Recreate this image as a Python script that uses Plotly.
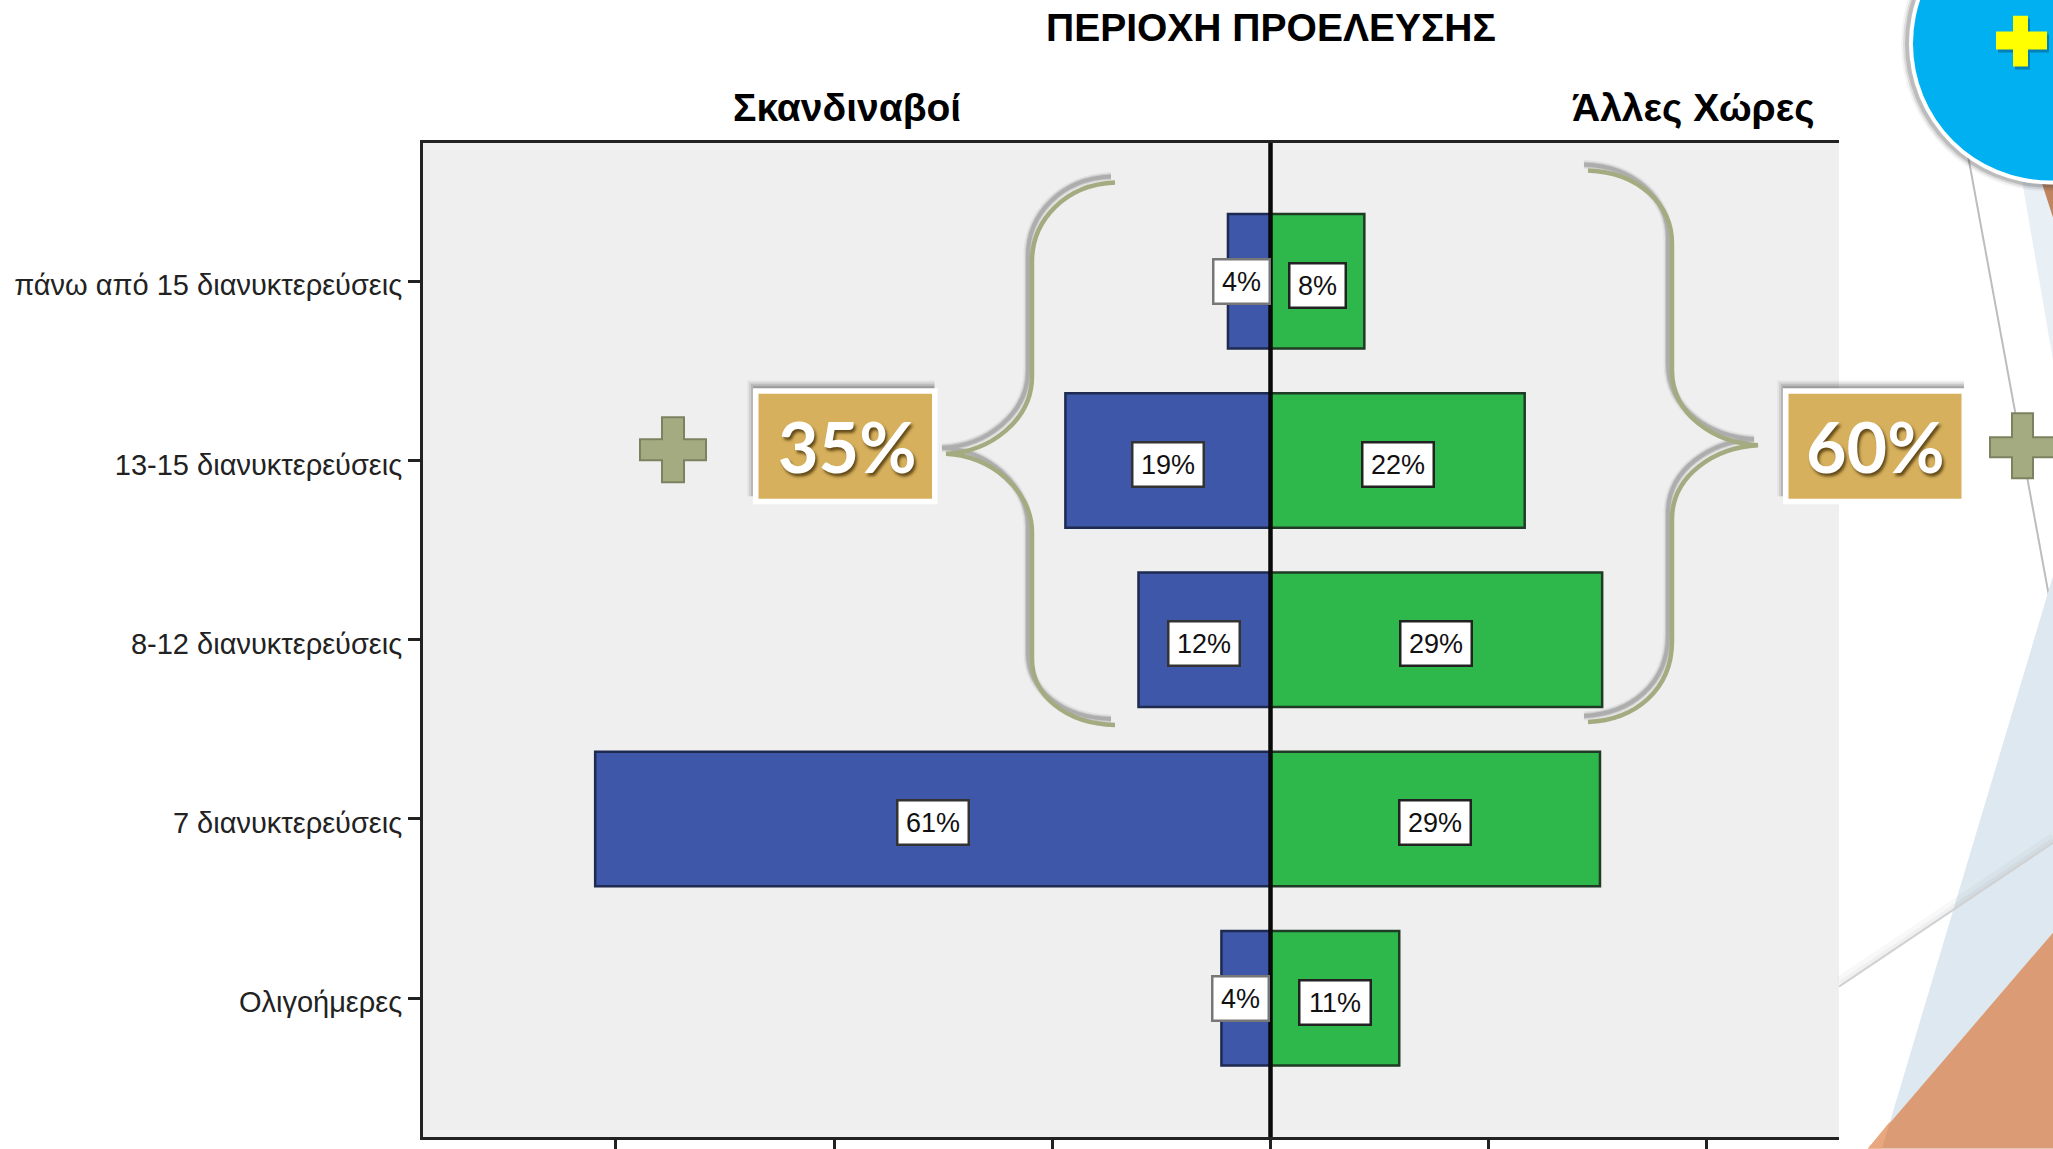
import plotly.graph_objects as go

categories = ["πάνω από 15 διανυκτερεύσεις", "13-15 διανυκτερεύσεις", "8-12 διανυκτερεύσεις",
              "7 διανυκτερεύσεις", "Ολιγοήμερες"]
left_lengths = [3.9, 18.8, 12.1, 61.9, 4.5]
right_lengths = [8.6, 23.3, 30.4, 30.2, 11.8]
left_labels = ["4%", "19%", "12%", "61%", "4%"]
right_labels = ["8%", "22%", "29%", "29%", "11%"]
x_ticks = [-60, -40, -20, 0, 20, 40]
title_text = "ΠΕΡΙΟΧΗ ΠΡΟΕΛΕΥΣΗΣ"
left_header = "Σκανδιναβοί"
right_header = "Άλλες Χώρες"
left_sum = "35%"
right_sum = "60%"

W, H = 2053, 1149
L, R, T, B = 423.0, 1839.0, 142.5, 1137.5
def X(p): return (p - L) / (R - L)
def Y(p): return 1 - (p - T) / (B - T)

BRACE = "#A5AB80"
PLUS_LINE = "#7C8260"
GOLD = "#D6B05C"
shapes = []

def path(cmds):
    out = []
    for c in cmds:
        if c == "Z":
            out.append("Z")
            continue
        op, pts = c[0], c[1:]
        out.append(op + " ".join(f"{X(a):.6f},{Y(b):.6f}" for a, b in pts))
    return " ".join(out)

def poly(points, fill):
    cmds = [("M", points[0])] + [("L", p) for p in points[1:]] + ["Z"]
    shapes.append(dict(type="path", xref="paper", yref="paper", path=path(cmds),
                       fillcolor=fill, line=dict(width=0)))

def seg(p0, p1, color, width):
    shapes.append(dict(type="line", xref="paper", yref="paper", x0=X(p0[0]), y0=Y(p0[1]),
                       x1=X(p1[0]), y1=Y(p1[1]), line=dict(color=color, width=width)))

def rect(x0, y0, x1, y1, fill, line=None, lw=0):
    shapes.append(dict(type="rect", xref="paper", yref="paper", x0=X(x0), x1=X(x1), y0=Y(y0), y1=Y(y1),
                       fillcolor=fill, line=dict(color=line or fill, width=lw)))

def circle(cx, cy, r, fill, line=None, lw=0):
    shapes.append(dict(type="circle", xref="paper", yref="paper", x0=X(cx - r), x1=X(cx + r),
                       y0=Y(cy + r), y1=Y(cy - r), fillcolor=fill, line=dict(color=line or fill, width=lw)))

def plus(x0, x1, y0, y1, ax0, ax1, ay0, ay1, fill, line=None, lw=0):
    pts = [(ax0, y0), (ax1, y0), (ax1, ay0), (x1, ay0), (x1, ay1), (ax1, ay1), (ax1, y1),
           (ax0, y1), (ax0, ay1), (x0, ay1), (x0, ay0), (ax0, ay0)]
    cmds = [("M", pts[0])] + [("L", p) for p in pts[1:]] + ["Z"]
    shapes.append(dict(type="path", xref="paper", yref="paper", path=path(cmds), fillcolor=fill,
                       line=dict(color=line or fill, width=lw)))

def brace(cmds):
    def shifted(dx, dy):
        return [(c[0],) + tuple((a + dx, b + dy) for a, b in c[1:]) for c in cmds]
    for w, a in ((9, .07), (6, .14), (4, .2)):
        shapes.append(dict(type="path", xref="paper", yref="paper", path=path(shifted(-4, -6)),
                           line=dict(color=f"rgba(60,60,60,{a})", width=w)))
    shapes.append(dict(type="path", xref="paper", yref="paper", path=path(cmds),
                       line=dict(color=BRACE, width=4.5)))

def gold_box(x0, y0, x1, y1):
    for g, a in ((7, .05), (5, .10), (3, .15), (1, .2)):
        rect(x0 - g + 1, y0 - g - 1, x1 - 3, y1 - 8, f"rgba(40,40,40,{a})")
    rect(x0, y0, x1, y1, "#FFFFFF")
    rect(x0 + 5.5, y0 + 5.5, x1 - 5.5, y1 - 5.5, GOLD)

# slide decoration outside the plot
poly([(2022, 180), (2053, 360), (2053, 180)], "#E8EFF5")
poly([(2042, 183), (2053, 217), (2053, 183)], "#C0855F")
seg((1968, 155), (2053, 618), "#BDBDBD", 2)
poly([(2053, 576), (1882, 1149), (2053, 1149)], "#DEE8F0")
poly([(2053, 933), (1868, 1149), (2053, 1149)], "#DB9C75")
poly([(1890, 1122), (1868, 1149), (1882, 1149)], "#E8A77E")
seg((1839, 981), (2053, 837), "rgba(120,120,120,0.05)", 8)
seg((1839, 984), (2053, 840), "rgba(120,120,120,0.06)", 4)
seg((1839, 987), (2053, 843), "#CFD1D3", 2)
for r, a in ((148, .06), (146, .12), (144, .2)):
    circle(2049, 43, r, f"rgba(60,60,60,{a})")
circle(2050, 43, 141, "#FFFFFF")
circle(2050, 43, 137, "#00B0F0")
plus(1998, 2049, 18, 69, 2015, 2030, 34, 52, "rgba(0,70,110,0.45)")
plus(1996, 2047, 15, 66, 2013, 2028, 31, 49, "#FFFF00")

# braces, boxes and plus signs
brace([("M", (1115, 182)), ("C", (1065, 184), (1032, 220), (1032, 261)), ("L", (1032, 376)),
       ("C", (1032, 420), (990, 452), (946, 453.5)), ("C", (990, 455), (1032, 490), (1032, 532)),
       ("L", (1032, 659)), ("C", (1032, 695), (1065, 724), (1115, 725))])
brace([("M", (1588, 170)), ("C", (1640, 172), (1672, 205), (1672, 243)), ("L", (1672, 370)),
       ("C", (1672, 415), (1715, 443), (1758, 445)), ("C", (1715, 447), (1672, 475), (1672, 519)),
       ("L", (1672, 641)), ("C", (1672, 690), (1635, 720), (1588, 722))])
gold_box(753, 388, 937.5, 504)
gold_box(1783, 388, 1967, 504)
plus(640, 706, 417, 482, 662, 684, 439, 460, BRACE, PLUS_LINE, 2)
plus(1990, 2060, 413, 478, 2012, 2033, 437, 457, BRACE, PLUS_LINE, 2)

# zero line
shapes.append(dict(type="line", xref="x", yref="paper", x0=0, x1=0, y0=0, y1=1,
                   line=dict(color="#0A0A0A", width=4.5)))

annotations = []
def note(px, py, text, size, color="#000000", family="Liberation Sans", bold=False, shadow=None):
    font = dict(size=size, color=color, family=family, weight=700 if bold else 400)
    if shadow:
        font["shadow"] = shadow
    annotations.append(dict(xref="paper", yref="paper", x=X(px), y=Y(py), text=text, showarrow=False,
                            xanchor="center", yanchor="middle", font=font))

note(1271, 27, title_text, 39, bold=True)
note(847, 107, left_header, 39, bold=True)
note(1693, 107, right_header, 39, bold=True)
SH = "2px 3px 3px rgba(60,40,0,0.75)"
note(847, 446, left_sum, 70, "#FFFFFF", "Lato", bold=True, shadow=SH)
note(1875, 446, right_sum, 70, "#FFFFFF", "Lato", bold=True, shadow=SH)

def value_box(x, cat, text, xshift, yshift, border):
    annotations.append(dict(xref="x", yref="y", x=x, y=cat, text=text, showarrow=False, xshift=xshift,
                            yshift=yshift, width=15 * len(text) + 24, height=42, bgcolor="#FFFFFF",
                            bordercolor=border, borderwidth=2.5, borderpad=0, align="center",
                            font=dict(size=27, color="#111111", family="Liberation Sans")))

for i, cat in enumerate(categories):
    lx = -left_lengths[i] / 2
    shift = -8 if i == 0 else (-5 if i == 4 else 0)
    value_box(lx, cat, left_labels[i], shift, 0 if left_labels[i] == "4%" else -4,
              "#777777" if left_labels[i] == "4%" else "#333333")
    value_box(right_lengths[i] / 2, cat, right_labels[i], 0, -4, "#222222")

fig = go.Figure()
fig.add_bar(y=categories, x=[-v for v in left_lengths], orientation="h", width=0.75, hoverinfo="skip",
            marker=dict(color="#3E57A9", line=dict(color="#1E2A50", width=2.5)))
fig.add_bar(y=categories, x=right_lengths, orientation="h", width=0.75, hoverinfo="skip",
            marker=dict(color="#2EB84B", line=dict(color="#1F3A25", width=2.5)))

fig.update_layout(
    width=W, height=H, autosize=False, barmode="overlay", showlegend=False,
    margin=dict(l=L, r=W - R, t=T, b=H - B, pad=0, autoexpand=False),
    paper_bgcolor="#FFFFFF", plot_bgcolor="#EFEFEF",
    shapes=shapes, annotations=annotations,
    font=dict(family="Liberation Sans"),
)
fig.update_xaxes(range=[(L - 1270.5) / 10.91, (R - 1270.5) / 10.91], tickvals=x_ticks, showticklabels=False,
                 ticks="outside", ticklen=14, tickwidth=3, tickcolor="#222222", showgrid=False, zeroline=False,
                 showline=True, linecolor="#222222", linewidth=3, mirror=True, automargin=False)
fig.update_yaxes(type="category", categoryorder="array", categoryarray=categories,
                 range=[4 + (B - 998.5) / 179.5, -(281 - T) / 179.5],
                 ticks="outside", ticklen=12, tickwidth=3, tickcolor="#222222", showgrid=False, zeroline=False,
                 showline=True, linecolor="#222222", linewidth=3, mirror=False, automargin=False,
                 ticklabelstandoff=0, ticklabelshift=-4,
                 tickfont=dict(size=29, color="#222222", family="Liberation Sans"))

fig.write_html("out.html", config=dict(displayModeBar=False),
               post_script="document.body.style.margin='0';document.documentElement.style.overflow='hidden';")
